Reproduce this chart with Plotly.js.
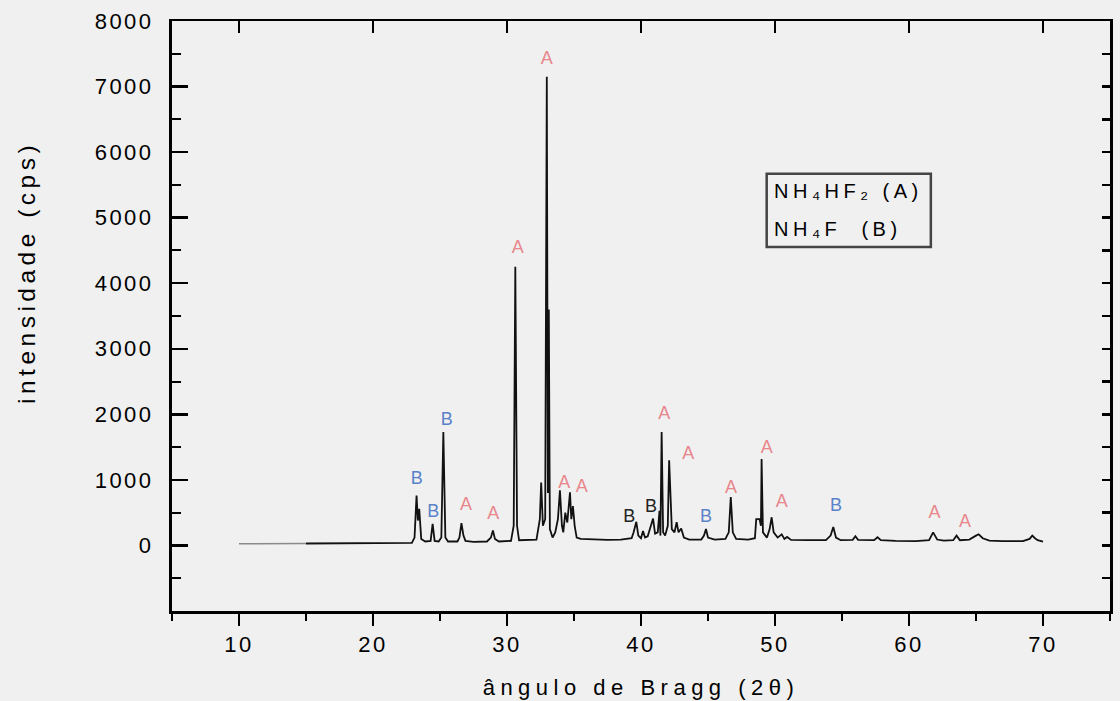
<!DOCTYPE html>
<html>
<head>
<meta charset="utf-8">
<script src="https://cdn.plot.ly/plotly-3.0.1.min.js"></script>
<style>
  html, body { margin:0; padding:0; background:#f0f0f0; }
  #chart { width:1120px; height:701px; }
  .xtick text, .ytick text { letter-spacing: 2.5px; }
  .g-xtitle text { letter-spacing: 5.5px; }
  .annotation-text { letter-spacing: 4.5px; }
</style>
</head>
<body>
<div id="chart"></div>
<script>
// XRD pattern: 2θ (degrees) and intensity (cps)
const twoTheta = [
  10.0, 12.0, 14.0, 15.0, 16.0, 18.0, 20.0, 22.0, 22.9, 23.1, 23.25, 23.35, 23.45, 23.6, 23.9,
  24.3, 24.45, 24.6, 24.9, 25.1, 25.25, 25.4, 25.6, 26.3, 26.45, 26.6, 26.75, 26.9, 27.5,
  28.5, 28.8, 28.95, 29.1, 29.4, 30.3, 30.5, 30.62, 30.75, 30.9, 32.2, 32.45, 32.55, 32.68,
  32.85, 32.97, 33.05, 33.12, 33.2, 33.4, 33.6, 33.8, 33.95, 34.1, 34.2, 34.35, 34.5, 34.7,
  34.8, 34.92, 35.05, 35.2, 35.5, 36.5, 37.5, 38.5, 39.3, 39.45, 39.65, 39.8, 40.0, 40.15,
  40.3, 40.5, 40.9, 41.05, 41.25, 41.38, 41.45, 41.54, 41.65, 41.8, 42.0, 42.1, 42.2, 42.3,
  42.5, 42.66, 42.8, 43.0, 43.2, 43.6, 44.5, 44.7, 44.85, 45.0, 45.5, 46.3, 46.55, 46.7,
  46.85, 47.1, 48.0, 48.5, 48.6, 48.85, 48.95, 49.0, 49.1, 49.4, 49.6, 49.75, 49.9, 50.2,
  50.5, 50.7, 50.9, 51.2, 52.5, 53.8, 54.15, 54.35, 54.55, 54.9, 55.8, 56.0, 56.2, 57.4,
  57.65, 57.9, 59.0, 60.5, 61.5, 61.8, 62.1, 62.6, 63.3, 63.55, 63.8, 64.5, 65.0, 65.2,
  65.5, 66.0, 67.0, 68.5, 69.0, 69.2, 69.4, 69.6, 70.0
];
const intensity = [
  25, 28, 30, 30, 30, 32, 33, 35, 40, 120, 760, 380, 560, 100, 60,
  70, 330, 70, 60, 120, 1730, 120, 60, 60, 120, 340, 150, 70, 55,
  60, 120, 230, 100, 60, 70, 300, 4250, 300, 80, 90, 400, 960, 300,
  400, 7150, 800, 3600, 250, 120, 200, 400, 840, 300, 200, 500, 350, 810,
  400, 600, 300, 120, 100, 90, 85, 90, 110, 200, 360, 150, 110, 220,
  120, 140, 410, 180, 200, 530, 150, 1730, 200, 150, 300, 1300, 600, 250,
  200, 355, 200, 260, 120, 90, 90, 150, 250, 120, 90, 100, 200, 740,
  200, 100, 90, 110, 400, 400, 300, 1320, 200, 120, 250, 430, 200, 120,
  170, 100, 130, 85, 80, 80, 150, 280, 120, 80, 85, 140, 85, 80,
  125, 80, 70, 65, 80, 200, 90, 75, 80, 150, 80, 90, 150, 170,
  110, 75, 65, 65, 100, 150, 110, 80, 60
];

// Phase labels above peaks (A = NH4HF2, B = NH4F)
const labelAngle  = [23.26, 24.5, 25.5, 26.94, 28.98, 30.8, 32.96, 34.28, 35.57, 39.13, 40.75, 41.74, 43.53, 44.85, 46.72, 49.38, 50.5, 54.55, 61.9, 64.18];
const labelHeight = [1006, 508, 1905, 610, 473, 4523, 7419, 940, 879, 432, 584, 1992, 1387, 432, 864, 1474, 660, 594, 483, 355];
const labelPhase  = ['B','B','B','A','A','A','A','A','A','B','B','A','A','B','A','A','A','B','A','A'];
const labelDark   = [false,false,false,false,false,false,false,false,false,true,true,false,false,false,false,false,false,false,false,false];

// Axis ticks
const xTickVals = [10, 20, 30, 40, 50, 60, 70];
const yTickVals = [0, 1000, 2000, 3000, 4000, 5000, 6000, 7000, 8000];

const colorA = '#e8868c';
const colorB = '#5a82c8';
const labelColors = labelPhase.map((p, i) => labelDark[i] ? '#222222' : (p === 'A' ? colorA : colorB));

const splitIdx = 3; // faint start of the scan (10–15°)
const traces = [
  {
    x: twoTheta.slice(0, splitIdx + 1), y: intensity.slice(0, splitIdx + 1),
    type: 'scatter', mode: 'lines', line: {color: '#8a8a8a', width: 1.4},
    hoverinfo: 'skip', showlegend: false
  },
  {
    x: twoTheta.slice(splitIdx), y: intensity.slice(splitIdx),
    type: 'scatter', mode: 'lines', line: {color: '#111111', width: 1.8},
    showlegend: false
  },
  {
    x: labelAngle, y: labelHeight, text: labelPhase,
    type: 'scatter', mode: 'text',
    textfont: {family: 'Liberation Sans, Arial, sans-serif', size: 18, color: labelColors},
    showlegend: false, hoverinfo: 'skip'
  },
  { // invisible trace to activate mirrored axes
    x: [null], y: [null], xaxis: 'x2', yaxis: 'y2', type: 'scatter', mode: 'lines', showlegend: false
  }
];

const fontMain = 'Liberation Sans, Arial, sans-serif';
const layout = {
  width: 1120, height: 701,
  paper_bgcolor: '#f0f0f0', plot_bgcolor: '#f0f0f0',
  margin: {l: 172, r: 10, t: 21, b: 90},
  showlegend: false,
  xaxis: {
    range: [5, 75], tickvals: xTickVals, ticktext: xTickVals.map(String),
    ticks: 'outside', ticklen: 12, tickwidth: 2.5, tickcolor: '#000',
    minor: {dtick: 5, tick0: 5, ticks: 'outside', ticklen: 7, tickwidth: 2.5, tickcolor: '#000'},
    showline: true, linecolor: '#000', linewidth: 3,
    showgrid: false, zeroline: false,
    tickfont: {family: fontMain, size: 22, color: '#000'},
    title: {text: 'ângulo de Bragg (2θ)', font: {family: fontMain, size: 22, color: '#000'}, standoff: 24}
  },
  xaxis2: {
    overlaying: 'x', side: 'top', range: [5, 75], tickvals: xTickVals,
    ticks: 'inside', ticklen: 12, tickwidth: 2, tickcolor: '#000',
    showticklabels: false, showline: true, linecolor: '#000', linewidth: 2.5,
    showgrid: false, zeroline: false
  },
  yaxis: {
    range: [-1000, 8000], tickvals: yTickVals, ticktext: yTickVals.map(String),
    ticks: 'inside', ticklen: 16, tickwidth: 2.5, tickcolor: '#000',
    minor: {dtick: 500, tick0: 0, ticks: 'inside', ticklen: 9, tickwidth: 2, tickcolor: '#000'},
    showline: true, linecolor: '#000', linewidth: 3,
    showgrid: false, zeroline: false,
    tickfont: {family: fontMain, size: 22, color: '#000'},
    ticklabelstandoff: 11
  },
  yaxis2: {
    overlaying: 'y', side: 'right', range: [-1000, 8000], dtick: 500, tick0: 0,
    ticks: 'inside', ticklen: 8, tickwidth: 2.5, tickcolor: '#000',
    showticklabels: false, showline: true, linecolor: '#000', linewidth: 2.5,
    showgrid: false, zeroline: false
  },
  shapes: [
    {type: 'rect', xref: 'paper', yref: 'paper', x0: 0.634, x1: 0.809, y0: 0.617, y1: 0.741,
     line: {color: '#444', width: 2.5}, fillcolor: 'rgba(0,0,0,0)'}
  ],
  annotations: [
    {xref: 'paper', yref: 'paper', x: -0.1546, y: 0.5746, text: 'intensidade (cps)', textangle: -90,
     showarrow: false, font: {family: fontMain, size: 24.5, color: '#000'}, xanchor: 'center', yanchor: 'middle'},
    {xref: 'paper', yref: 'paper', x: 0.6397, y: 0.712, xanchor: 'left', yanchor: 'middle', showarrow: false,
     text: 'NH₄HF₂ (A)', font: {family: fontMain, size: 20, color: '#000'}},
    {xref: 'paper', yref: 'paper', x: 0.6397, y: 0.647, xanchor: 'left', yanchor: 'middle', showarrow: false,
     text: 'NH₄F  (B)', font: {family: fontMain, size: 20, color: '#000'}}
  ]
};

Plotly.newPlot('chart', traces, layout, {displayModeBar: false, staticPlot: true});
</script>
</body>
</html>
